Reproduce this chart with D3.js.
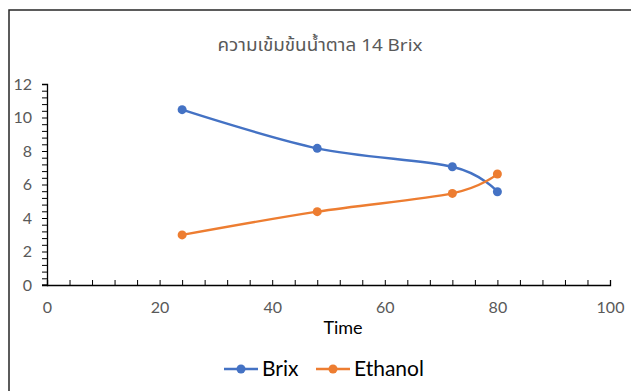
<!DOCTYPE html>
<html><head><meta charset="utf-8">
<script src="https://cdn.jsdelivr.net/npm/d3@7"></script>
<style>
html,body{margin:0;padding:0;background:#fff;}
svg{display:block;}
</style></head>
<body>
<svg id="chart" width="631" height="391"></svg>
<script>
const title = "ความเข้มข้นน้ำตาล 14 Brix";
const xTitle = "Time";
const times = [24, 48, 72, 80];
const brix = [10.47, 8.16, 7.06, 5.57];
const ethanol = [2.99, 4.38, 5.47, 6.63];
const seriesNames = ["Brix", "Ethanol"];
const seriesColors = ["#4472C4", "#ED7D31"];
const xTicks = [0, 20, 40, 60, 80, 100];
const yTicks = [0, 2, 4, 6, 8, 10, 12];

const svg = d3.select("#chart");
const fontTick = "Lato, 'Open Sans', sans-serif";

// chart border
svg.append("rect").attr("x", 9).attr("y", 10).attr("width", 700).attr("height", 500)
  .attr("fill", "none").attr("stroke", "#262626").attr("stroke-width", 1.5);

const x = d3.scaleLinear().domain([0, 100]).range([47, 610]);
const y = d3.scaleLinear().domain([0, 12]).range([285, 84]);

// title
svg.append("text").attr("x", 320).attr("y", 51).attr("text-anchor", "middle")
  .attr("font-family", "'Noto Sans Thai', 'Noto Sans', sans-serif").attr("font-size", 17)
  .attr("fill", "#595959").attr("textLength", 205).attr("lengthAdjust", "spacingAndGlyphs").text(title);

// y axis with minor ticks
const yMinor = d3.range(0, 12.0001, 0.4);
const yAxisG = svg.append("g").attr("transform", `translate(${x(0)},0)`);
yAxisG.call(d3.axisLeft(y).tickValues(yMinor).tickSize(5).tickFormat(""));
yAxisG.selectAll("path").attr("stroke", "#000").attr("stroke-width", 1.3);
yAxisG.selectAll("line").attr("stroke", "#000").attr("stroke-width", 1);
const yLab = svg.append("g").attr("transform", `translate(${x(0)},0)`)
  .call(d3.axisLeft(y).tickValues(yTicks).tickSize(0).tickPadding(15));
yLab.select(".domain").remove();
yLab.selectAll("text").attr("font-family", fontTick).attr("font-size", 16).attr("fill", "#595959");

// x axis with minor ticks (pointing up)
const xMinor = d3.range(0, 100.0001, 4);
const xAxisG = svg.append("g").attr("transform", `translate(0,${y(0)})`);
xAxisG.call(d3.axisTop(x).tickValues(xMinor).tickSize(5).tickFormat("").tickSizeOuter(5));
xAxisG.selectAll("path").attr("stroke", "#000").attr("stroke-width", 1.3);
xAxisG.selectAll("line").attr("stroke", "#000").attr("stroke-width", 1);
svg.append("line").attr("x1", x(0) - 5).attr("x2", x(0)).attr("y1", y(0)).attr("y2", y(0))
  .attr("stroke", "#000").attr("stroke-width", 1.3);
const xLab = svg.append("g").attr("transform", `translate(0,${y(0)})`)
  .call(d3.axisBottom(x).tickValues(xTicks).tickSize(0).tickPadding(17));
xLab.select(".domain").remove();
xLab.selectAll("text").attr("font-family", fontTick).attr("font-size", 16).attr("fill", "#595959");

// x title
svg.append("text").attr("x", 343).attr("y", 334).attr("text-anchor", "middle")
  .attr("font-family", fontTick).attr("font-size", 18).attr("fill", "#000").text(xTitle);

// series
const line = d3.line().x(d => x(d[0])).y(d => y(d[1])).curve(d3.curveCardinal.tension(0));
[brix, ethanol].forEach((vals, i) => {
  const pts = times.map((t, j) => [t, vals[j]]);
  svg.append("path").datum(pts).attr("d", line).attr("fill", "none")
    .attr("stroke", seriesColors[i]).attr("stroke-width", 2.4);
  svg.selectAll(null).data(pts).enter().append("circle")
    .attr("cx", d => x(d[0])).attr("cy", d => y(d[1])).attr("r", 4.5)
    .attr("fill", seriesColors[i]);
});

// legend
const legX = [224, 316];
seriesNames.forEach((name, i) => {
  const g = svg.append("g").attr("transform", `translate(${legX[i]},369)`);
  g.append("line").attr("x1", 0).attr("x2", 34).attr("y1", 0).attr("y2", 0)
    .attr("stroke", seriesColors[i]).attr("stroke-width", 2.4);
  g.append("circle").attr("cx", 17).attr("cy", 0).attr("r", 4.5).attr("fill", seriesColors[i]);
  g.append("text").attr("x", 38).attr("y", 7).attr("font-family", fontTick).attr("font-size", 21)
    .attr("fill", "#000").text(name);
});
</script>
</body></html>
